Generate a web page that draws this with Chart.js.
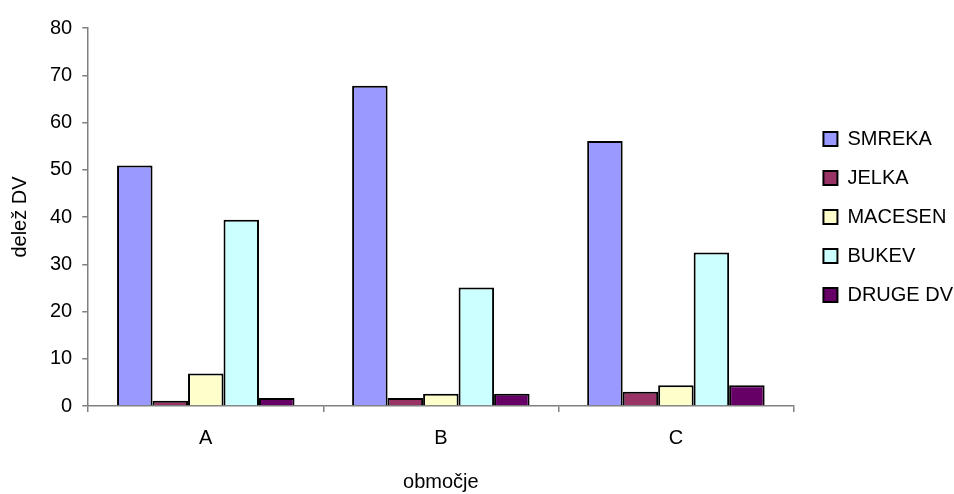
<!DOCTYPE html>
<html>
<head>
<meta charset="utf-8">
<script src="https://cdn.jsdelivr.net/npm/chart.js@4.4.1/dist/chart.umd.min.js"></script>
<style>
  html, body { margin: 0; padding: 0; background: #fff; }
  #wrap { width: 954px; height: 494px; }
</style>
</head>
<body>
<div id="wrap"><canvas id="chartDV"></canvas></div>
<script>
const categories = ['A', 'B', 'C'];
const smreka = [50.9, 67.8, 56.1];
const jelka = [1.1, 1.7, 3.0];
const macesen = [6.9, 2.6, 4.4];
const bukev = [39.4, 25.1, 32.5];
const drugeDV = [1.7, 2.6, 4.4];
const yTicks = [0, 10, 20, 30, 40, 50, 60, 70, 80];

document.addEventListener("DOMContentLoaded", function(){
    const ctx = document.getElementById("chartDV");
    const font = 'Liberation Sans, Arial, sans-serif';
    const axisColor = '#808080';

    function serie(label, data, color) {
        return {
            label: label,
            data: data,
            backgroundColor: color,
            borderColor: '#000',
            borderWidth: 2,
            categoryPercentage: 0.755,
            barPercentage: 1.0
        };
    }

    new Chart(ctx, {
        type: 'bar',
        data: {
            labels: categories,
            datasets: [
                serie('SMREKA', smreka, '#9999FF'),
                serie('JELKA', jelka, '#993366'),
                serie('MACESEN', macesen, '#FFFFCC'),
                serie('BUKEV', bukev, '#CCFFFF'),
                serie('DRUGE DV', drugeDV, '#660066')
            ]
        },
        options: {
            responsive: true,
            maintainAspectRatio: false,
            animation: false,
            layout: {
                padding: { top: 28, left: 8, right: -9, bottom: 0 }
            },
            plugins: {
                tooltip: { enabled: false },
                legend: {
                    position: 'right',
                    fullSize: false,
                    labels: {
                        font: { family: font, size: 20 },
                        color: '#000',
                        boxWidth: 14,
                        boxHeight: 14,
                        padding: 19
                    }
                }
            },
            scales: {
                x: {
                    grid: {
                        display: true,
                        drawOnChartArea: false,
                        tickLength: 6,
                        color: axisColor,
                        lineWidth: 1.5,
                        offset: true
                    },
                    border: { color: axisColor, width: 1.5 },
                    ticks: {
                        font: { family: font, size: 20 },
                        color: '#000',
                        padding: 14
                    },
                    title: {
                        display: true,
                        text: 'območje',
                        font: { family: font, size: 20 },
                        color: '#000',
                        padding: { top: 6, bottom: 0 }
                    }
                },
                y: {
                    min: 0,
                    max: 80,
                    afterBuildTicks: function(scale) {
                        scale.ticks = yTicks.map(v => ({ value: v }));
                    },
                    grid: {
                        display: true,
                        drawOnChartArea: false,
                        tickLength: 6,
                        color: axisColor,
                        lineWidth: 1.5
                    },
                    border: { color: axisColor, width: 1.5 },
                    ticks: {
                        font: { family: font, size: 20 },
                        color: '#000',
                        padding: 10
                    },
                    title: {
                        display: true,
                        text: 'delež DV',
                        font: { family: font, size: 20 },
                        color: '#000',
                        padding: { top: 0, bottom: 8 }
                    }
                },
                // empty right-hand strip between plot and legend
                gap: {
                    position: 'right',
                    display: true,
                    grid: { display: false },
                    border: { display: false },
                    ticks: { display: false },
                    afterFit: function(scale) { scale.width = 11; }
                }
            }
        }
    });
});
</script>
</body>
</html>
